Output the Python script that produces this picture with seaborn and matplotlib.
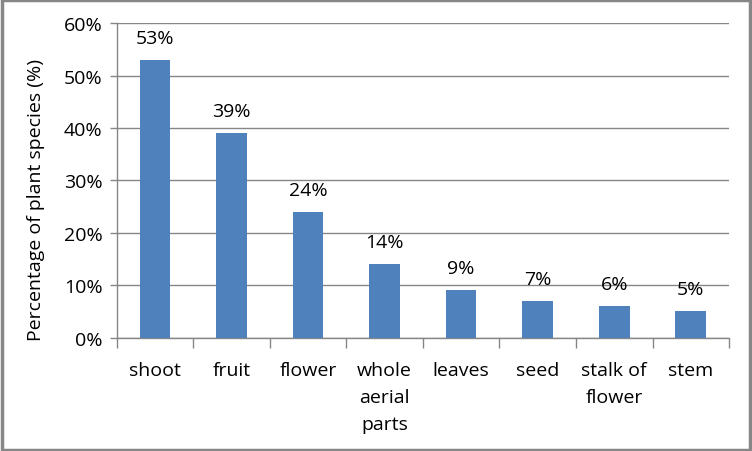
import numpy as np
import pandas as pd
import seaborn as sns
import matplotlib.pyplot as plt
from matplotlib.patches import Rectangle
from matplotlib.ticker import PercentFormatter, FixedLocator

# chart data
parts = ['shoot', 'fruit', 'flower', 'whole\naerial\nparts', 'leaves', 'seed', 'stalk of\nflower', 'stem']
percent = [53, 39, 24, 14, 9, 7, 6, 5]

df = pd.DataFrame({'part': parts, 'percent': percent})

sns.set_style('white')
plt.rcParams['font.family'] = ['Open Sans', 'DejaVu Sans']
plt.rcParams['text.color'] = 'black'
plt.rcParams['axes.labelcolor'] = 'black'
plt.rcParams['xtick.labelcolor'] = 'black'
plt.rcParams['ytick.labelcolor'] = 'black'

fs = 14

fig = plt.figure(figsize=(7.52, 4.52), dpi=100)
ax = fig.add_axes([0.155, 0.251, 0.8145, 0.695])

sns.barplot(data=df, x='part', y='percent', color='#4F81BD', saturation=1,
            width=0.4, linewidth=0, ax=ax, zorder=3)

# value labels above bars
for i, v in enumerate(percent):
    ax.annotate(f'{v}%', (i, v), xytext=(0, 22), textcoords='offset pixels',
                ha='center', va='center', fontsize=fs, color='black')

ax.set_xlim(-0.5, len(parts) - 0.5)
ax.set_ylim(0, 60)
ax.set_yticks(range(0, 61, 10))
ax.yaxis.set_major_formatter(PercentFormatter(decimals=0))
ax.grid(axis='y', color='#868686', linewidth=1, zorder=0)
ax.set_axisbelow(True)

# category separators as ticks
ax.xaxis.set_minor_locator(FixedLocator(np.arange(-0.5, len(parts), 1)))
ax.tick_params(axis='x', which='major', length=0, pad=17, labelsize=fs)
ax.tick_params(axis='x', which='minor', length=7, width=1, color='#868686', direction='out', bottom=True)
ax.tick_params(axis='y', length=5, width=1, color='#868686', direction='out', left=True, pad=5, labelsize=fs)
for lbl in ax.get_xticklabels():
    lbl.set_linespacing(1.65)
    lbl.set_va('top')

for side in ['top', 'right']:
    ax.spines[side].set_visible(False)
for side in ['left', 'bottom']:
    ax.spines[side].set_color('#868686')
    ax.spines[side].set_linewidth(1)

ax.set_xlabel('')
ax.set_ylabel('Percentage of plant species (%)', fontsize=fs)
ax.yaxis.set_label_coords(-0.117, 0.441)

# outer chart border
fig.patches.append(Rectangle((0.002, 0.003), 0.996, 0.994, transform=fig.transFigure,
                             fill=False, edgecolor='#878787', linewidth=2.5))

fig.savefig('out.png', dpi=100)
